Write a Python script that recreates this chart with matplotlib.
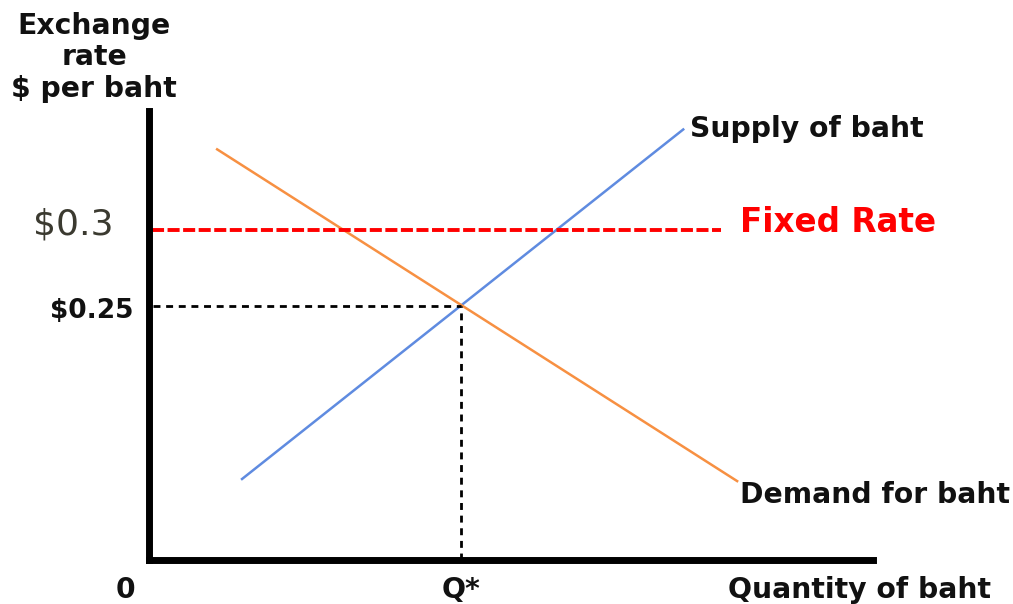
import matplotlib
matplotlib.use("Agg")
import matplotlib.pyplot as plt

# ---- data ----
supply_q = [29.5, 171.5]
supply_p = [0.1362, 0.3664]
demand_q = [21.5, 188.8]
demand_p = [0.3533, 0.1349]
fixed_rate = 0.30
eq_price = 0.25
eq_qty = 100.0
fixed_line_q = [1.0, 183.3]
y_tick_labels = ["$0.3", "$0.25"]

W, H = 1013, 604
fig = plt.figure(figsize=(W / 100, H / 100), dpi=100)
ax = fig.add_axes([149 / W, (H - 560) / H, (873 - 149) / W, (560 - 111) / H])
ax.set_xlim(0, 232.0)
ax.set_ylim(0.0836, 0.378)
for s in ["top", "right"]:
    ax.spines[s].set_visible(False)
for s in ["left", "bottom"]:
    ax.spines[s].set_linewidth(5.0)
    ax.spines[s].set_color("black")
ax.set_xticks([])
ax.set_yticks([])

# curves
ax.plot(supply_q, supply_p, color="#5f8be0", lw=1.8, solid_capstyle="butt")
ax.plot(demand_q, demand_p, color="#f79042", lw=1.8, solid_capstyle="butt")

# fixed rate line
ax.plot(fixed_line_q, [fixed_rate, fixed_rate], color="#ff0000", lw=2.8,
        dashes=(3.1, 0.9))
# equilibrium guides
ax.plot([1.2, eq_qty], [eq_price, eq_price], color="black", lw=2.0, dashes=(2.5, 2.05))
ax.plot([eq_qty, eq_qty], [0.0836, eq_price], color="black", lw=2.0, dashes=(2.5, 2.05))

bold = dict(family="DejaVu Sans", fontweight="bold", color="#111111", fontsize=20.3)

def fx(px):
    return px / W

def fy(py):
    return 1 - py / H

fig.text(fx(94), fy(34), "Exchange", ha="center", va="baseline", **bold)
fig.text(fx(94), fy(65), "rate", ha="center", va="baseline", **bold)
fig.text(fx(94), fy(97), "$ per baht", ha="center", va="baseline", **bold)

fig.text(fx(113), fy(234), y_tick_labels[0], ha="right", va="baseline", fontsize=26,
         family="DejaVu Sans", color="#3b3a30")
fig.text(fx(133), fy(318), y_tick_labels[1], ha="right", va="baseline",
         family="DejaVu Sans", fontweight="bold", color="#111111", fontsize=19)

fig.text(fx(740), fy(232), "Fixed Rate", ha="left", va="baseline", fontsize=23.5,
         family="DejaVu Sans", fontweight="bold", color="#ff0000")
fig.text(fx(690), fy(137), "Supply of baht", ha="left", va="baseline", **bold)
fig.text(fx(740), fy(503), "Demand for baht", ha="left", va="baseline", **bold)
fig.text(fx(728), fy(598), "Quantity of baht", ha="left", va="baseline", **bold)
fig.text(fx(125), fy(598), "0", ha="center", va="baseline", **bold)
fig.text(fx(442), fy(598), "Q*", ha="left", va="baseline", **bold)

fig.savefig("out.png", dpi=100)
